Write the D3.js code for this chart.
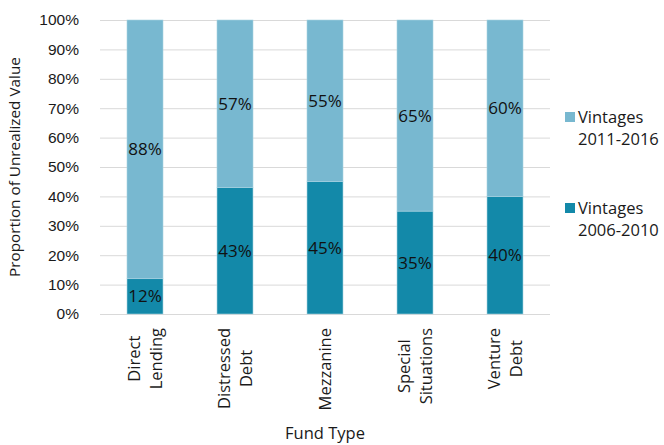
<!DOCTYPE html>
<html>
<head>
<meta charset="utf-8">
<script src="https://cdn.jsdelivr.net/npm/d3@7"></script>
<style>
  body { margin: 0; background: #fff; }
  svg { display: block; font-family: "Open Sans", sans-serif; }
  .grid line { stroke: #d9d9d9; stroke-width: 1; }
  .grid .domain { display: none; }
  .axis .domain, .axis line { display: none; }
  .axis text { font-size: 15.5px; fill: #1a1a1a; }
</style>
</head>
<body>
<div id="wrapper"></div>
<script>
// data
const fundTypes = ["Direct Lending", "Distressed Debt", "Mezzanine", "Special Situations", "Venture Debt"];
const fundLines = [["Direct", "Lending"], ["Distressed", "Debt"], ["Mezzanine"], ["Special", "Situations"], ["Venture", "Debt"]];
const seriesNames = ["Vintages 2006-2010", "Vintages 2011-2016"];
const vintages0610 = [0.12, 0.43, 0.45, 0.35, 0.40];
const vintages1116 = [0.88, 0.57, 0.55, 0.65, 0.60];
const yTicks = [0, 0.1, 0.2, 0.3, 0.4, 0.5, 0.6, 0.7, 0.8, 0.9, 1.0];

function drawChart() {
    const dimensions = {
        width: 664,
        height: 445,
        margin: { top: 20, right: 114, bottom: 131, left: 100 },
    };
    dimensions.boundedWidth = dimensions.width - dimensions.margin.left - dimensions.margin.right;
    dimensions.boundedHeight = dimensions.height - dimensions.margin.top - dimensions.margin.bottom;

    const colors = { "Vintages 2006-2010": "#1389a9", "Vintages 2011-2016": "#78b8d0" };

    const wrapper = d3.select("#wrapper")
        .append("svg")
        .attr("width", dimensions.width)
        .attr("height", dimensions.height);

    const bounds = wrapper.append("g")
        .attr("transform", `translate(${dimensions.margin.left}, ${dimensions.margin.top})`);

    // scales
    const xScale = d3.scaleBand()
        .domain(fundTypes)
        .range([0, dimensions.boundedWidth])
        .paddingInner(0.6)
        .paddingOuter(0.3);

    const yScale = d3.scaleLinear()
        .domain([0, 1])
        .range([dimensions.boundedHeight, 0]);

    // gridlines
    bounds.append("g")
        .attr("class", "grid")
        .call(d3.axisLeft(yScale)
            .tickValues(yTicks)
            .tickSize(-dimensions.boundedWidth)
            .tickFormat(""));

    // stacked bars
    const table = fundTypes.map((f, i) => ({
        fund: f,
        "Vintages 2006-2010": vintages0610[i],
        "Vintages 2011-2016": vintages1116[i],
    }));
    const stacked = d3.stack().keys(seriesNames)(table);

    const layers = bounds.selectAll(".layer")
        .data(stacked)
        .enter().append("g")
        .attr("class", "layer")
        .attr("fill", d => colors[d.key]);

    layers.selectAll("rect")
        .data(d => d)
        .enter().append("rect")
        .attr("x", d => xScale(d.data.fund))
        .attr("width", xScale.bandwidth())
        .attr("y", d => yScale(d[1]))
        .attr("height", d => yScale(d[0]) - yScale(d[1]))
        .attr("stroke", "#a9d3e2")
        .attr("stroke-width", 0.6);

    layers.selectAll("text")
        .data(d => d)
        .enter().append("text")
        .attr("x", d => xScale(d.data.fund) + xScale.bandwidth() / 2)
        .attr("y", d => yScale((d[0] + d[1]) / 2))
        .attr("dy", "0.35em")
        .attr("text-anchor", "middle")
        .attr("fill", "#111")
        .style("font-size", "17px")
        .text(d => `${Math.round((d[1] - d[0]) * 100)}%`);

    // y axis
    bounds.append("g")
        .attr("class", "axis y-axis")
        .attr("transform", "translate(-18, 0)")
        .call(d3.axisLeft(yScale)
            .tickValues(yTicks)
            .tickSize(0)
            .tickFormat(d3.format(".0%")));

    bounds.append("text")
        .attr("transform", `translate(${-dimensions.margin.left + 20}, ${dimensions.boundedHeight / 2}) rotate(-90)`)
        .attr("text-anchor", "middle")
        .style("font-size", "15.3px")
        .attr("fill", "#1a1a1a")
        .text("Proportion of Unrealized Value");

    // x category labels, rotated
    const lineHeight = 22;
    const xLabels = bounds.append("g")
        .attr("class", "x-labels");
    fundTypes.forEach((f, i) => {
        const cx = xScale(f) + xScale.bandwidth() / 2;
        const lines = fundLines[i];
        const g = xLabels.append("g");
        const texts = g.selectAll("text")
            .data(lines)
            .enter().append("text")
            .attr("text-anchor", "middle")
            .style("font-size", "16.5px")
            .attr("fill", "#1a1a1a")
            .attr("x", 0)
            .attr("y", (d, j) => (j - (lines.length - 1) / 2) * lineHeight)
            .attr("dy", "0.35em")
            .text(d => d);
        let maxLen = 0;
        texts.each(function() { maxLen = Math.max(maxLen, this.getComputedTextLength()); });
        const top = dimensions.boundedHeight + 14;
        g.attr("transform", `translate(${cx}, ${top + maxLen / 2}) rotate(-90)`);
    });

    bounds.append("text")
        .attr("x", dimensions.boundedWidth / 2)
        .attr("y", dimensions.height - dimensions.margin.top - 6)
        .attr("text-anchor", "middle")
        .style("font-size", "16.5px")
        .attr("fill", "#1a1a1a")
        .text("Fund Type");

    // legend
    const legendItems = [
        { name: "Vintages 2011-2016", y: 92 },
        { name: "Vintages 2006-2010", y: 183 },
    ];
    const legend = bounds.append("g")
        .attr("transform", `translate(${dimensions.boundedWidth + 15}, 0)`);
    legendItems.forEach(item => {
        const g = legend.append("g").attr("transform", `translate(0, ${item.y})`);
        g.append("rect")
            .attr("width", 10)
            .attr("height", 10)
            .attr("fill", colors[item.name]);
        const parts = item.name.split(" ");
        g.append("text")
            .attr("x", 13)
            .attr("y", 11)
            .style("font-size", "16.5px")
            .attr("fill", "#1a1a1a")
            .selectAll("tspan")
            .data(parts)
            .enter().append("tspan")
            .attr("x", 13)
            .attr("dy", (d, j) => j === 0 ? 0 : 22)
            .text(d => d);
    });
}

drawChart();
</script>
</body>
</html>
